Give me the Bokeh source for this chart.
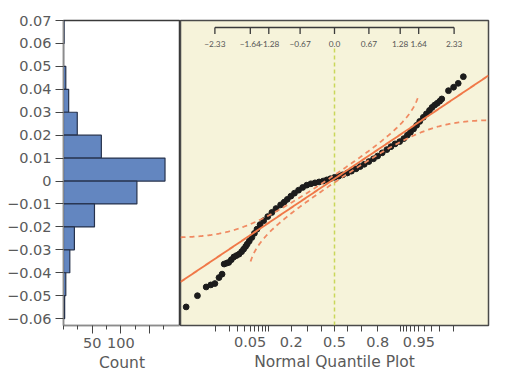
from statistics import NormalDist
import numpy as np
from bokeh.plotting import figure
from bokeh.layouts import row
from bokeh.models import Range1d, LinearAxis, FixedTicker
from bokeh.embed import file_html
from bokeh.resources import INLINE

# ---------------- data ----------------
# histogram (bin lower edges, width 0.01) and counts
bin_lo = [0.06, 0.05, 0.04, 0.03, 0.02, 0.01, 0.00, -0.01, -0.02, -0.03, -0.04, -0.05, -0.06]
bin_counts = [1, 0, 4, 9, 24, 66, 177, 128, 54, 19, 11, 4, 2]
bin_width = 0.01

y_ticks = [0.07, 0.06, 0.05, 0.04, 0.03, 0.02, 0.01, 0.0, -0.01, -0.02, -0.03, -0.04, -0.05, -0.06]
y_labels = ["0.07", "0.06", "0.05", "0.04", "0.03", "0.02", "0.01", "0",
            "\u22120.01", "\u22120.02", "\u22120.03", "\u22120.04", "\u22120.05", "\u22120.06"]

count_major = [50, 100, 150]
count_labels = ["50", "100", ""]
count_minor = [0, 25, 75, 125, 175]

# normal quantile plot: (normal quantile, sorted value) pairs
q_z = [-2.89, -2.67, -2.50, -2.41, -2.33, -2.25, -2.19, -2.15, -2.10, -2.06, -2.01, -1.96,
       -1.91, -1.86, -1.81, -1.77, -1.73, -1.70, -1.66, -1.61, -1.56, -1.51, -1.45, -1.38,
       -1.30, -1.22, -1.14, -1.05, -0.98, -0.92, -0.85, -0.78, -0.70, -0.62, -0.54, -0.46,
       -0.38, -0.30, -0.22, -0.15, -0.08, 0.00, 0.08, 0.16, 0.25, 0.33, 0.42, 0.50,
       0.58, 0.67, 0.76, 0.84, 0.93, 1.02, 1.10, 1.18, 1.27, 1.35, 1.42, 1.48,
       1.54, 1.60, 1.66, 1.73, 1.79, 1.85, 1.90, 1.95, 2.00, 2.05, 2.09, 2.22,
       2.32, 2.41, 2.51]
q_v = [-0.0549, -0.0500, -0.0462, -0.0453, -0.0447, -0.0421, -0.0406, -0.0362, -0.0358, -0.0355, -0.0343, -0.0331,
       -0.0325, -0.0319, -0.0308, -0.0297, -0.0285, -0.0275, -0.0262, -0.0246, -0.0228, -0.0210, -0.0190, -0.0173,
       -0.0155, -0.0137, -0.0120, -0.0104, -0.0092, -0.0080, -0.0066, -0.0053, -0.0040, -0.0028, -0.0018, -0.0012,
       -0.0008, -0.0004, 0.0000, 0.0005, 0.0010, 0.0016, 0.0021, 0.0027, 0.0035, 0.0043, 0.0053, 0.0063,
       0.0073, 0.0085, 0.0097, 0.0109, 0.0123, 0.0137, 0.0150, 0.0162, 0.0172, 0.0185, 0.0200, 0.0213,
       0.0227, 0.0243, 0.0260, 0.0278, 0.0293, 0.0308, 0.0321, 0.0331, 0.0339, 0.0348, 0.0358, 0.0394,
       0.0409, 0.0426, 0.0455]

# fitted normal and Lilliefors-type band parameters
fit_mean = 0.001
fit_sd = 0.015
ks_d = 0.043
band_p_lo = 0.007
band_p_hi = 0.992

top_ticks = [-2.33, -1.64, -1.28, -0.67, 0.0, 0.67, 1.28, 1.64, 2.33]
top_labels = ["\u22122.33", "\u22121.64", "\u22121.28", "\u22120.67", "0.0", "0.67", "1.28", "1.64", "2.33"]

prob_minor = [0.01, 0.02, 0.03, 0.04, 0.06, 0.07, 0.08, 0.09, 0.1, 0.3, 0.4, 0.6, 0.7, 0.9,
              0.91, 0.92, 0.93, 0.94, 0.96, 0.97, 0.98, 0.99]
prob_major = [0.05, 0.2, 0.5, 0.8, 0.95]
prob_labels = ["0.05", "0.2", "0.5", "0.8", "0.95"]

# ---------------- style ----------------
FONT = "DejaVu Sans"
SMALL_FONT = "Lato"
TXT = "#5a5a5a"
H = 382
TOP, BOTTOM = 20, 57
frame_h = H - TOP - BOTTOM
Y0, Y1 = -0.063, 0.07
FS = "14.5px"
TITLE_FS = "15.5px"

N = NormalDist()

# ---------------- left: histogram ----------------
left = figure(width=180, height=H, x_range=Range1d(0, 204), y_range=Range1d(Y0, Y1),
              output_backend="svg", toolbar_location=None, x_axis_type=None, y_axis_type=None,
              min_border_left=63, min_border_right=0, min_border_top=TOP, min_border_bottom=BOTTOM)
left.outline_line_color = "#3a3a3a"
left.outline_line_width = 1.5
left.background_fill_color = "white"

ya = LinearAxis(ticker=FixedTicker(ticks=y_ticks, minor_ticks=[]),
                major_label_overrides=dict(zip(y_ticks, y_labels)))
ya.axis_line_color = "#8c8c8c"
ya.major_tick_line_color = "#444444"
ya.major_tick_out = 8
ya.major_tick_in = 0
ya.major_label_standoff = 4
ya.major_label_text_font = FONT
ya.major_label_text_font_size = FS
ya.major_label_text_color = TXT
left.add_layout(ya, "left")

xa = LinearAxis(ticker=FixedTicker(ticks=count_major, minor_ticks=count_minor),
                major_label_overrides=dict(zip(count_major, count_labels)),
                axis_label="Count")
xa.axis_line_color = "#8c8c8c"
xa.major_tick_line_color = "#444444"
xa.minor_tick_line_color = "#444444"
xa.major_tick_out = 8
xa.major_tick_in = 0
xa.minor_tick_out = 4
xa.minor_tick_in = 0
xa.major_label_standoff = 4
xa.major_label_text_font = FONT
xa.major_label_text_font_size = FS
xa.major_label_text_color = TXT
xa.axis_label_text_font = FONT
xa.axis_label_text_font_size = TITLE_FS
xa.axis_label_text_font_style = "normal"
xa.axis_label_text_color = TXT
xa.axis_label_standoff = 3
left.add_layout(xa, "below")

left.quad(left=0, right=bin_counts, bottom=bin_lo, top=[b + bin_width for b in bin_lo],
          fill_color="#6386c0", line_color="#26324c", line_width=1.2)

# ---------------- right: normal quantile plot ----------------
right = figure(width=319, height=H, x_range=Range1d(-3, 3), y_range=Range1d(Y0, Y1),
               output_backend="svg", toolbar_location=None, x_axis_type=None, y_axis_type=None,
               min_border_left=0, min_border_right=11, min_border_top=TOP, min_border_bottom=BOTTOM)
right.background_fill_color = "#f6f3da"
right.outline_line_color = "#4a4a4a"
right.outline_line_width = 1.5
right.extra_y_ranges = {"px": Range1d(start=frame_h, end=0)}

z_major = [N.inv_cdf(p) for p in prob_major]
z_minor = [N.inv_cdf(p) for p in prob_minor]
pa = LinearAxis(ticker=FixedTicker(ticks=z_major, minor_ticks=z_minor),
                major_label_overrides=dict(zip(z_major, prob_labels)),
                axis_label="Normal Quantile Plot")
pa.axis_line_color = None
pa.major_tick_line_color = "#444444"
pa.minor_tick_line_color = "#444444"
pa.major_tick_out = 6
pa.major_tick_in = 0
pa.minor_tick_out = 6
pa.minor_tick_in = 0
pa.major_label_standoff = 5
pa.major_label_text_font = FONT
pa.major_label_text_font_size = FS
pa.major_label_text_color = TXT
pa.axis_label_text_font = FONT
pa.axis_label_text_font_size = TITLE_FS
pa.axis_label_text_font_style = "normal"
pa.axis_label_text_color = TXT
pa.axis_label_standoff = 3
right.add_layout(pa, "below")

# vertical median reference (dashed)
right.segment(x0=[0.0], x1=[0.0], y0=[28], y1=[frame_h], y_range_name="px",
              line_color="#c9d75a", line_width=1.5, line_dash="4 3")

# data points
right.scatter(q_z, q_v, size=5.8, fill_color="#1c1c1c", line_color="#1c1c1c")

# fitted line and confidence bands
zz = np.linspace(-3, 3, 401)
right.line(zz, fit_mean + fit_sd * zz, line_color="#f07848", line_width=1.9)
pz = np.array([N.cdf(z) for z in zz])
up_p = pz + ks_d
m_up = (up_p <= band_p_hi)
right.line(zz[m_up], fit_mean + fit_sd * np.array([N.inv_cdf(p) for p in up_p[m_up]]),
           line_color="#f08a62", line_width=1.8, line_dash="5 4")
lo_p = pz - ks_d
m_lo = (lo_p >= band_p_lo)
right.line(zz[m_lo], fit_mean + fit_sd * np.array([N.inv_cdf(p) for p in lo_p[m_lo]]),
           line_color="#f08a62", line_width=1.8, line_dash="5 4")

# inner top axis (normal quantile scale)
right.segment(x0=[min(top_ticks)], x1=[max(top_ticks)], y0=[7], y1=[7], y_range_name="px",
              line_color="#3a3a3a", line_width=1.3)
right.segment(x0=top_ticks, x1=top_ticks, y0=[7] * len(top_ticks), y1=[13.5] * len(top_ticks),
              y_range_name="px", line_color="#3a3a3a", line_width=1.3)
right.text(x=top_ticks, y=[23] * len(top_ticks), text=top_labels, y_range_name="px",
           text_align="center", text_baseline="middle", text_font_size="8.3px",
           text_color="#555555", text_font={"value": SMALL_FONT})

layout = row(left, right, spacing=0)

with open("out.html", "w") as f:
    f.write(file_html(layout, INLINE))
